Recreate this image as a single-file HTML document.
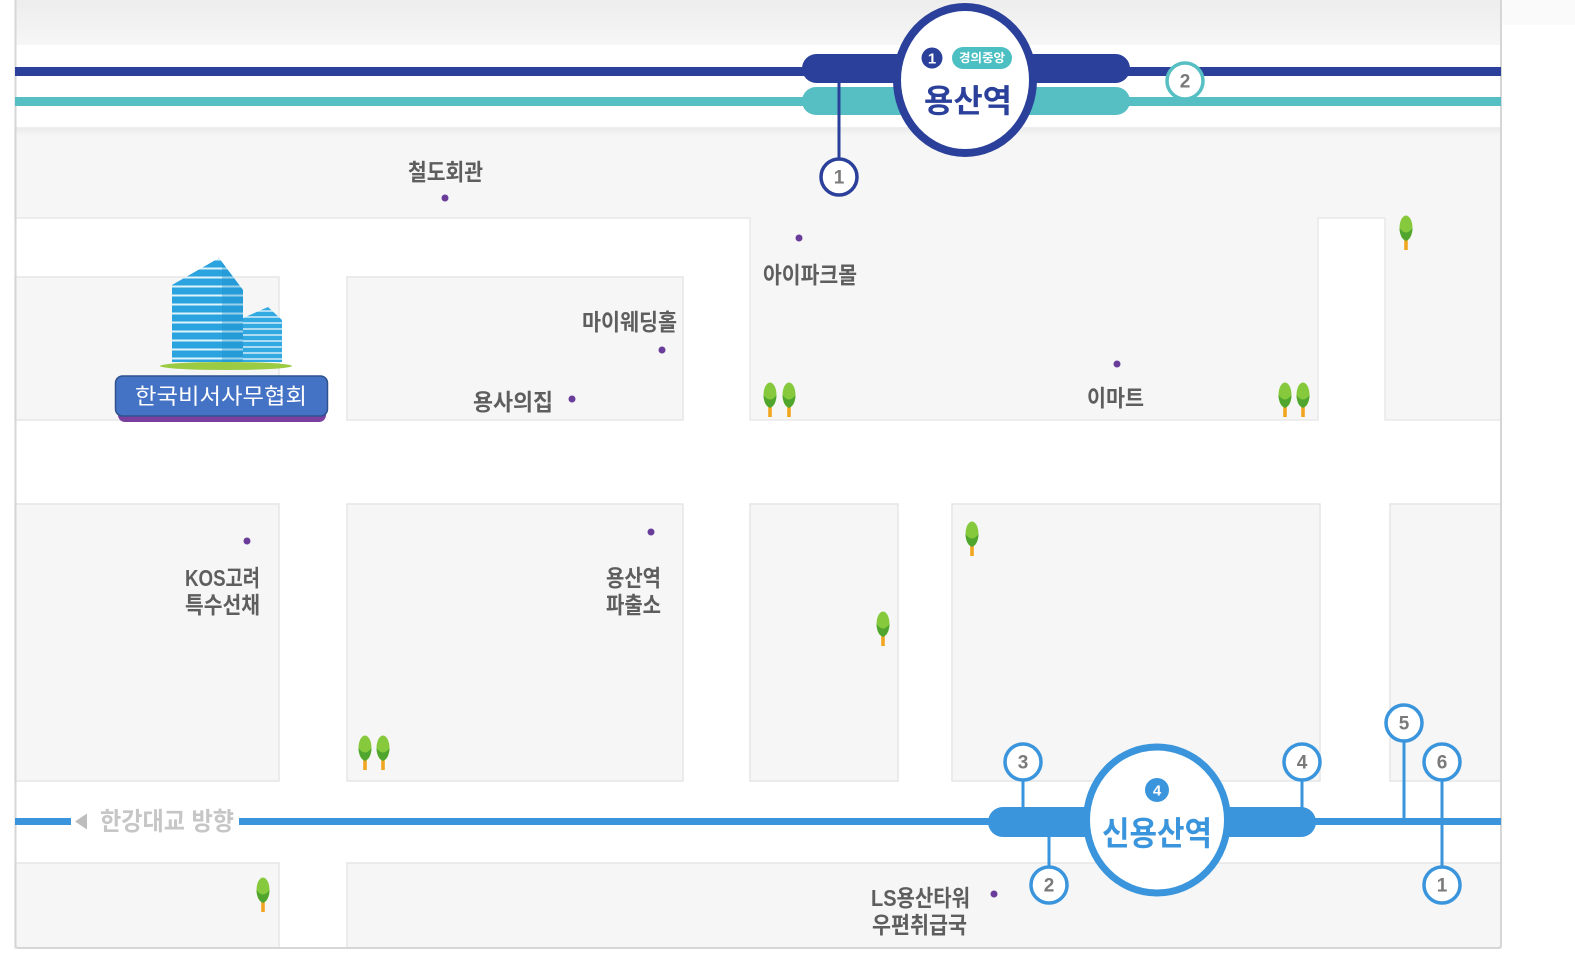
<!DOCTYPE html>
<html><head><meta charset="utf-8">
<style>
html,body{margin:0;padding:0;background:#fff;}
svg{display:block;}
text{font-family:"Liberation Sans","Noto Sans CJK KR","NanumGothic",sans-serif;}
.lb{fill:#5e5e5e;font-size:23px;font-weight:700;}
.ex{fill:#7a7a7a;font-size:19px;font-weight:700;}
</style></head><body>
<svg width="1575" height="971" viewBox="0 0 1575 971" xmlns="http://www.w3.org/2000/svg">
<defs>
<linearGradient id="topg" x1="0" y1="0" x2="0" y2="1"><stop offset="0" stop-color="#ebebeb"/><stop offset="1" stop-color="#f6f6f6"/></linearGradient>
<linearGradient id="hdr" x1="0" y1="0" x2="0" y2="1"><stop offset="0" stop-color="#ededed"/><stop offset="1" stop-color="#f6f6f6"/></linearGradient>
<pattern id="stripe" width="10" height="9" patternUnits="userSpaceOnUse"><rect width="10" height="9" fill="#2aa3df"/><rect y="6.5" width="10" height="2" fill="#dff3fb"/></pattern>
<pattern id="stripe2" width="10" height="6" patternUnits="userSpaceOnUse"><rect width="10" height="6" fill="#33a9e2"/><rect y="4.3" width="10" height="1.4" fill="#dff3fb"/></pattern>
<g id="tree"><rect x="-1.8" y="21" width="3.6" height="13" fill="#f0a620"/><ellipse cx="0" cy="12" rx="6.5" ry="12.5" fill="#86c93c"/><path d="M-6.5,12 Q0,21 6.5,12 Q6,22 0,25 Q-6,22 -6.5,12Z" fill="#4fa52e"/></g>
</defs>

<!-- header strip -->
<rect x="15" y="0" width="1486" height="45" fill="url(#hdr)"/>
<rect x="1502" y="0" width="73" height="25" fill="#fafafa"/>

<!-- top gray region -->
<path d="M15,128 H1501 V420 H1385 V218 H1318 V420 H750 V218 H15 Z" fill="#f6f6f6" stroke="#e8e8e8" stroke-width="1.5"/>
<rect x="15" y="128" width="1486" height="8" fill="url(#topg)"/>

<!-- blocks -->
<g fill="#f6f6f6" stroke="#e6e6e6" stroke-width="1.5">
<rect x="15" y="277" width="264" height="143"/>
<rect x="347" y="277" width="336" height="143"/>
<rect x="15" y="504" width="264" height="277"/>
<rect x="347" y="504" width="336" height="277"/>
<rect x="750" y="504" width="148" height="277"/>
<rect x="952" y="504" width="368" height="277"/>
<rect x="1390" y="504" width="111" height="277"/>
<rect x="15" y="863" width="264" height="85"/>
<rect x="347" y="863" width="1154" height="85"/>
</g>

<!-- frame -->
<rect x="15.5" y="-3" width="1485.5" height="951" rx="3" fill="none" stroke="#d6d6d6" stroke-width="2"/>

<!-- trees -->
<use href="#tree" x="972" y="522"/>
<use href="#tree" x="883" y="612"/>
<use href="#tree" x="770" y="383"/>
<use href="#tree" x="789" y="383"/>
<use href="#tree" x="1285" y="383"/>
<use href="#tree" x="1303" y="383"/>
<use href="#tree" x="263" y="878"/>
<use href="#tree" x="1406" y="216"/>
<use href="#tree" x="365" y="736"/>
<use href="#tree" x="383" y="736"/>

<!-- labels + dots -->
<g fill="#6a3d9a">
<circle cx="445" cy="198" r="3.5"/>
<circle cx="662" cy="350" r="3.5"/>
<circle cx="572" cy="399" r="3.5"/>
<circle cx="799" cy="238" r="3.5"/>
<circle cx="1117" cy="364" r="3.5"/>
<circle cx="247" cy="541" r="3.5"/>
<circle cx="651" cy="532" r="3.5"/>
<circle cx="994" cy="894" r="3.5"/>
</g>
<text class="lb" x="408" y="180" textLength="75" lengthAdjust="spacingAndGlyphs">철도회관</text>
<text class="lb" x="582" y="330" textLength="95" lengthAdjust="spacingAndGlyphs">마이웨딩홀</text>
<text class="lb" x="473" y="410" textLength="80" lengthAdjust="spacingAndGlyphs">용사의집</text>
<text class="lb" x="763" y="283" textLength="94" lengthAdjust="spacingAndGlyphs">아이파크몰</text>
<text class="lb" x="1087" y="406" textLength="57" lengthAdjust="spacingAndGlyphs">이마트</text>
<text class="lb" x="185" y="586" textLength="75" lengthAdjust="spacingAndGlyphs">KOS고려</text>
<text class="lb" x="185" y="613" textLength="75" lengthAdjust="spacingAndGlyphs">특수선채</text>
<text class="lb" x="606" y="586" textLength="55" lengthAdjust="spacingAndGlyphs">용산역</text>
<text class="lb" x="606" y="613" textLength="55" lengthAdjust="spacingAndGlyphs">파출소</text>
<text class="lb" x="871" y="906" textLength="99" lengthAdjust="spacingAndGlyphs">LS용산타워</text>
<text class="lb" x="872" y="933" textLength="95" lengthAdjust="spacingAndGlyphs">우편취급국</text>

<!-- building icon -->
<polygon points="172,285 219,258 243,290 243,362 172,362" fill="url(#stripe)"/>
<polygon points="219,258 243,290 243,362 222,362 222,262" fill="#1d8fcc" opacity="0.35"/>
<polygon points="243,318 268,307 282,320 282,362 243,362" fill="url(#stripe2)"/>
<ellipse cx="226" cy="366" rx="66" ry="4" fill="#9acb43"/>
<!-- label button -->
<rect x="118" y="382" width="208" height="40" rx="7" fill="#7b3f9e"/>
<rect x="115.5" y="376" width="212" height="40" rx="7" fill="#4472c4" stroke="#2f528f" stroke-width="1.5"/>
<text x="221" y="404" text-anchor="middle" fill="#fff" font-size="22" textLength="172" lengthAdjust="spacingAndGlyphs">한국비서사무협회</text>

<!-- top rail lines -->
<rect x="15" y="67" width="1486" height="9" fill="#2b409a"/>
<rect x="15" y="97" width="1486" height="9" fill="#56bfc4"/>
<rect x="802" y="54" width="328" height="29" rx="14.5" fill="#2b409a"/>
<rect x="802" y="87" width="328" height="28" rx="14" fill="#56bfc4"/>
<!-- exit 1 top -->
<line x1="839" y1="80" x2="839" y2="160" stroke="#2b409a" stroke-width="3"/>
<circle cx="839" cy="177" r="18" fill="#fff" stroke="#2b409a" stroke-width="3.5"/>
<text class="ex" x="839" y="183.5" text-anchor="middle">1</text>
<!-- exit 2 top -->
<circle cx="1185" cy="81" r="18" fill="#fff" stroke="#56bfc4" stroke-width="3.5"/>
<text class="ex" x="1185" y="87.5" text-anchor="middle">2</text>
<!-- Yongsan station -->
<ellipse cx="965" cy="80" rx="68" ry="73" fill="#fff" stroke="#2b409a" stroke-width="8"/>
<circle cx="932" cy="58" r="10.5" fill="#2b409a"/>
<text x="932" y="63.5" text-anchor="middle" fill="#fff" font-size="15" font-weight="700">1</text>
<rect x="952" y="47" width="60" height="22" rx="11" fill="#4cbfc2"/>
<text x="982" y="62" text-anchor="middle" fill="#fff" font-size="12" font-weight="700" textLength="46" lengthAdjust="spacingAndGlyphs">경의중앙</text>
<text x="924" y="112" fill="#2b409a" font-size="32" font-weight="700" textLength="88" lengthAdjust="spacingAndGlyphs">용산역</text>

<!-- bottom line -->
<rect x="15" y="818" width="56" height="7" fill="#3a95dc"/>
<rect x="239" y="818" width="1262" height="7" fill="#3a95dc"/>
<polygon points="75,821.5 87,813.5 87,829.5" fill="#bdbdbd"/>
<text x="100" y="830" fill="#c6c6c6" font-size="25" font-weight="700" textLength="134" lengthAdjust="spacingAndGlyphs">한강대교 방향</text>
<rect x="988" y="807" width="328" height="30" rx="15" fill="#3a95dc"/>

<!-- bottom exits -->
<g stroke="#3a95dc" stroke-width="3">
<line x1="1023" y1="780" x2="1023" y2="810"/>
<line x1="1302" y1="780" x2="1302" y2="810"/>
<line x1="1049" y1="834" x2="1049" y2="866"/>
<line x1="1404" y1="741" x2="1404" y2="820"/>
<line x1="1442" y1="780" x2="1442" y2="866"/>
</g>
<g fill="#fff" stroke="#3a95dc" stroke-width="3.5">
<circle cx="1023" cy="762" r="18"/>
<circle cx="1302" cy="762" r="18"/>
<circle cx="1049" cy="885" r="18"/>
<circle cx="1404" cy="723" r="18"/>
<circle cx="1442" cy="762" r="18"/>
<circle cx="1442" cy="885" r="18"/>
</g>
<text class="ex" x="1023" y="768.5" text-anchor="middle">3</text>
<text class="ex" x="1302" y="768.5" text-anchor="middle">4</text>
<text class="ex" x="1049" y="891.5" text-anchor="middle">2</text>
<text class="ex" x="1404" y="729.5" text-anchor="middle">5</text>
<text class="ex" x="1442" y="768.5" text-anchor="middle">6</text>
<text class="ex" x="1442" y="891.5" text-anchor="middle">1</text>

<!-- Shinyongsan station -->
<ellipse cx="1157" cy="820" rx="70.5" ry="73" fill="#fff" stroke="#3a95dc" stroke-width="7"/>
<circle cx="1157" cy="790" r="12" fill="#3a95dc"/>
<text x="1157" y="795.5" text-anchor="middle" fill="#fff" font-size="15" font-weight="700">4</text>
<text x="1102" y="845" fill="#3a95dc" font-size="33" font-weight="700" textLength="110" lengthAdjust="spacingAndGlyphs">신용산역</text>
</svg>
</body></html>
